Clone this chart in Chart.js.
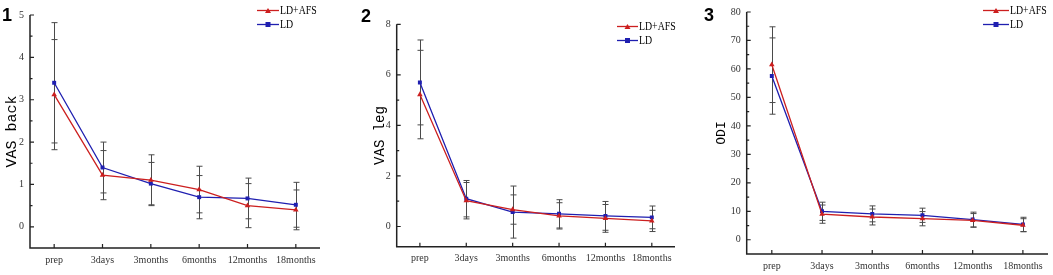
<!DOCTYPE html>
<html><head><meta charset="utf-8">
<script src="https://cdn.jsdelivr.net/npm/chart.js@4.4.1/dist/chart.umd.min.js"></script>
<style>
html,body{margin:0;padding:0;background:#fff;}
#wrap{position:relative;width:1053px;height:275px;overflow:hidden;background:#fff;}
canvas.panel{position:absolute;top:0;}
.num{position:absolute;font:bold 18px "Liberation Sans",Arial,sans-serif;color:#000;line-height:1;}
.leg{position:absolute;font:12px "Liberation Serif",serif;color:#000;}
.leg .row{display:flex;align-items:center;height:13.5px;white-space:nowrap;}
.leg svg{display:block;margin-right:1px;}
.leg span{display:inline-block;transform:scaleX(0.82);transform-origin:left center;}
</style>
</head><body>
<div id="wrap"></div>
<script>
// ---- data ----
const categories = ['prep','3days','3months','6months','12months','18months'];
const seriesNames = ['LD+AFS','LD'];

const backTicks = [0,1,2,3,4,5];
const backAFS    = [3.12,1.22,1.10,0.88,0.50,0.40];
const backAFSErr = [1.30,0.58,0.60,0.55,0.52,0.47];
const backLD     = [3.40,1.40,1.02,0.70,0.67,0.52];
const backLDErr  = [1.42,0.60,0.50,0.51,0.48,0.53];

const legTicks = [0,2,4,6,8];
const legAFS    = [5.22,1.02,0.67,0.42,0.32,0.22];
const legAFSErr = [1.75,0.72,0.58,0.52,0.55,0.42];
const legLD     = [5.70,1.10,0.57,0.50,0.42,0.36];
const legLDErr  = [1.68,0.72,1.03,0.56,0.57,0.45];

const odiTicks = [0,10,20,30,40,50,60,70,80];
const odiAFS    = [61.5,9.0,8.0,7.4,6.8,5.1];
const odiAFSErr = [13.3,3.2,2.8,2.5,2.4,2.3];
const odiLD     = [57.5,10.0,9.1,8.6,7.1,5.4];
const odiLDErr  = [13.4,3.2,2.8,2.5,2.6,2.5];

const RED = '#cc1f1f', BLUE = '#1f1fb0';

// ---- panel layout ----
const panels = [
  {num:'1', numX:2, numY:6, left:0, width:350, title:'VAS back', titleSize:15, titlePad:3,
   min:-0.5, max:5, ticks:backTicks, minor:0.5,
   afs:backAFS, afsErr:backAFSErr, ld:backLD, ldErr:backLDErr,
   pad:{left:0,top:15,right:30,bottom:0}, yW:30, xH:27,
   legX:257, legY:4, lineW:22},
  {num:'2', numX:361, numY:7, left:350, width:350, title:'VAS leg', titleSize:14, titlePad:4,
   min:-0.8, max:8, ticks:legTicks, minor:1,
   afs:legAFS, afsErr:legAFSErr, ld:legLD, ldErr:legLDErr,
   pad:{left:18,top:24.3,right:25,bottom:0}, yW:28.7, xH:28.3,
   legX:616.5, legY:20, lineW:21},
  {num:'3', numX:704, numY:6, left:700, width:353, title:'ODI', titleSize:13, titlePad:4,
   min:-5, max:80, ticks:odiTicks, minor:5,
   afs:odiAFS, afsErr:odiAFSErr, ld:odiLD, ldErr:odiLDErr,
   pad:{left:10,top:10.7,right:5,bottom:0}, yW:36.7, xH:21,
   legX:982.5, legY:4, lineW:26}
];

const decor = {
  id:'decor',
  beforeDatasetsDraw(chart){
    const {ctx, scales:{x,y}} = chart;
    ctx.save();
    ctx.strokeStyle = '#4a4a4a'; ctx.lineWidth = 1;
    chart.data.datasets.forEach(ds=>{
      ds.data.forEach((v,i)=>{
        const e = ds.err[i];
        const px = Math.round(x.getPixelForValue(i)) + 0.5;
        const t = y.getPixelForValue(v+e), b = y.getPixelForValue(v-e);
        ctx.beginPath();
        ctx.moveTo(px,t); ctx.lineTo(px,b);
        ctx.moveTo(px-3,t); ctx.lineTo(px+3,t);
        ctx.moveTo(px-3,b); ctx.lineTo(px+3,b);
        ctx.stroke();
      });
    });
    ctx.restore();
  },
  afterDraw(chart){
    const {ctx, chartArea:a, scales:{x,y}} = chart;
    const p = chart.options.plugins.decor;
    ctx.save();
    ctx.strokeStyle = '#222'; ctx.lineWidth = 1.5;
    ctx.beginPath();
    ctx.moveTo(a.left, a.top); ctx.lineTo(a.left, a.bottom); ctx.lineTo(a.right, a.bottom);
    ctx.stroke();
    ctx.lineWidth = 1.2;
    ctx.beginPath();
    p.ticks.forEach(v=>{
      const py = y.getPixelForValue(v);
      ctx.moveTo(a.left, py); ctx.lineTo(a.left+4, py);
      const m = v + p.minor;
      if (m < p.max) { const pm = y.getPixelForValue(m); ctx.moveTo(a.left, pm); ctx.lineTo(a.left+2.5, pm); }
    });
    categories.forEach((c,i)=>{
      const px = x.getPixelForValue(i);
      ctx.moveTo(px, a.bottom); ctx.lineTo(px, a.bottom-4);
    });
    ctx.stroke();
    ctx.restore();
  }
};

const wrap = document.getElementById('wrap');

function legendRow(color, shape, w, label){
  const cx = w/2;
  const mark = shape === 'tri'
    ? `<polygon points="${cx-3},7 ${cx+3},7 ${cx},2" fill="${color}"/>`
    : `<rect x="${cx-2.5}" y="2" width="5" height="5" fill="${color}"/>`;
  return `<div class="row"><svg width="${w}" height="9"><line x1="0" y1="4.5" x2="${w}" y2="4.5" stroke="${color}" stroke-width="1.3"/>${mark}</svg><span>${label}</span></div>`;
}

panels.forEach((p,k)=>{
  const cv = document.createElement('canvas');
  cv.className = 'panel';
  cv.width = p.width; cv.height = 275;
  cv.style.left = p.left + 'px';
  cv.style.width = p.width + 'px'; cv.style.height = '275px';
  wrap.appendChild(cv);

  const n = document.createElement('div');
  n.className = 'num'; n.textContent = p.num;
  n.style.left = p.numX + 'px'; n.style.top = p.numY + 'px';
  wrap.appendChild(n);

  const lg = document.createElement('div');
  lg.className = 'leg';
  lg.style.left = p.legX + 'px'; lg.style.top = p.legY + 'px';
  lg.innerHTML = legendRow(RED,'tri',p.lineW,seriesNames[0]) + legendRow(BLUE,'sq',p.lineW,seriesNames[1]);
  wrap.appendChild(lg);

  const tickFont = {family:'Liberation Serif', size:10};
  new Chart(cv.getContext('2d'), {
    type:'line',
    data:{
      labels: categories,
      datasets:[
        {label:seriesNames[0], data:p.afs, err:p.afsErr, borderColor:RED, backgroundColor:RED,
         borderWidth:1.3, pointStyle:'triangle', pointRadius:3.2, pointBorderWidth:0, tension:0},
        {label:seriesNames[1], data:p.ld, err:p.ldErr, borderColor:BLUE, backgroundColor:BLUE,
         borderWidth:1.3, pointStyle:'rect', pointRadius:2.8, pointBorderWidth:0, tension:0}
      ]
    },
    options:{
      responsive:false, animation:false, devicePixelRatio:1,
      layout:{padding:p.pad},
      plugins:{legend:{display:false}, tooltip:{enabled:false},
               decor:{ticks:p.ticks, minor:p.minor, max:p.max}},
      scales:{
        x:{type:'category', offset:true,
           grid:{display:false, drawTicks:false}, border:{display:false},
           ticks:{font:tickFont, color:'#333', padding:6, maxRotation:0, autoSkip:false},
           afterFit:s=>{ s.height = p.xH; }},
        y:{type:'linear', min:p.min, max:p.max,
           grid:{display:false, drawTicks:false}, border:{display:false},
           afterBuildTicks:s=>{ s.ticks = p.ticks.map(v=>({value:v})); },
           ticks:{font:tickFont, color:'#333', padding:6},
           title:{display:true, text:p.title, color:'#000',
                  font:{family:'Liberation Mono', size:p.titleSize}, padding:{top:p.titlePad,bottom:0}},
           afterFit:s=>{ s.width = p.yW; }}
      }
    },
    plugins:[decor]
  });
});
</script>
</body></html>
